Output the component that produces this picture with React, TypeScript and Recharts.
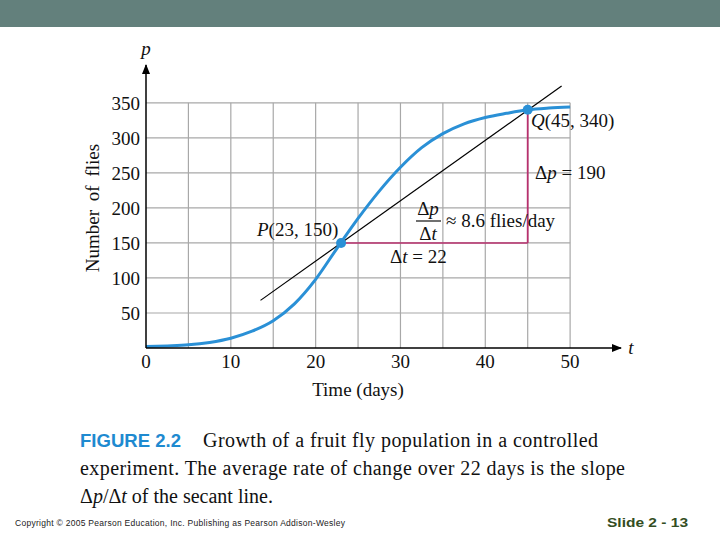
import React from "react";
import { LineChart, Line, XAxis, YAxis, ReferenceLine, ReferenceDot } from "recharts";

// fruit fly population
const days = [0, 2.5, 5, 7.5, 10, 12.5, 15, 17.5, 20, 22.5, 25, 27.5, 30, 32.5, 35, 37.5, 40, 42.5, 45, 47.5, 50];
const flies = [2, 3, 4.5, 8, 14, 24, 39, 63, 98, 142, 185, 224, 258, 286, 306, 320, 329, 335, 340, 342.5, 344];

const xTicks = [0, 10, 20, 30, 40, 50];
const yTicks = [50, 100, 150, 200, 250, 300, 350];
const gridDays = [5, 10, 15, 20, 25, 30, 35, 40, 45, 50];
const gridFlies = [50, 100, 150, 200, 250, 300, 350];

const pointP = { t: 23, p: 150 };
const pointQ = { t: 45, p: 340 };
const secantStart = { t: 13.5, p: 68 };
const secantEnd = { t: 49, p: 374 };

const curveData = days.map((t, i) => ({ t, p: flies[i] }));

const SERIF = "'Liberation Serif', 'DejaVu Serif', serif";
const SANS = "'Liberation Sans', Arial, sans-serif";
const BLUE = "#2a90d6";
const MAGENTA = "#b8306e";
const GRID = "#a8a8a8";

const ArrowUp = (props: any) => (
  <path d={`M${props.cx},${props.cy - 1} L${props.cx - 4},${props.cy + 9} L${props.cx + 4},${props.cy + 9} Z`} fill="#000" />
);
const ArrowRight = (props: any) => (
  <path d={`M${props.cx + 1},${props.cy} L${props.cx - 9},${props.cy - 4} L${props.cx - 9},${props.cy + 4} Z`} fill="#000" />
);
const Dot = (props: any) => <circle cx={props.cx} cy={props.cy} r={5} fill={BLUE} />;

export default function App() {
  return (
    <div style={{ position: "absolute", left: 0, top: 0, width: 720, height: 540, background: "#fff" }}>
      <LineChart width={720} height={540} margin={{ top: 65, right: 99, left: 86, bottom: 152 }}>
        <XAxis
          type="number"
          dataKey="t"
          domain={[0, 56]}
          ticks={xTicks}
          height={40}
          tickSize={0}
          tickMargin={7}
          axisLine={{ stroke: "#000", strokeWidth: 1.5 }}
          tick={{ fontFamily: SERIF, fontSize: 19, fill: "#111" }}
        />
        <YAxis
          type="number"
          domain={[0, 404]}
          ticks={yTicks}
          width={60}
          tickSize={0}
          tickMargin={6}
          axisLine={{ stroke: "#000", strokeWidth: 1.5 }}
          tick={{ fontFamily: SERIF, fontSize: 19, fill: "#111" }}
        />
        {gridDays.map((t) => (
          <ReferenceLine key={"v" + t} segment={[{ x: t, y: 0 }, { x: t, y: 350 }]} stroke={GRID} strokeWidth={1.2} />
        ))}
        {gridFlies.map((p) => (
          <ReferenceLine key={"h" + p} segment={[{ x: 0, y: p }, { x: 50, y: p }]} stroke={GRID} strokeWidth={1.2} />
        ))}
        <ReferenceLine
          segment={[{ x: pointP.t, y: pointP.p }, { x: pointQ.t, y: pointP.p }]}
          stroke={MAGENTA}
          strokeWidth={1.5}
        />
        <ReferenceLine
          segment={[{ x: pointQ.t, y: pointP.p }, { x: pointQ.t, y: pointQ.p }]}
          stroke={MAGENTA}
          strokeWidth={1.8}
        />
        <ReferenceLine
          segment={[{ x: secantStart.t, y: secantStart.p }, { x: secantEnd.t, y: secantEnd.p }]}
          stroke="#000"
          strokeWidth={1.2}
        />
        <Line
          data={curveData}
          dataKey="p"
          type="monotone"
          stroke={BLUE}
          strokeWidth={3}
          dot={false}
          isAnimationActive={false}
        />
        <ReferenceDot x={pointP.t} y={pointP.p} shape={Dot} />
        <ReferenceDot x={pointQ.t} y={pointQ.p} shape={Dot} />
        <ReferenceDot x={0} y={404} shape={ArrowUp} />
        <ReferenceDot x={56} y={0} shape={ArrowRight} />
      </LineChart>

      <svg width={720} height={540} style={{ position: "absolute", left: 0, top: 0, pointerEvents: "none" }}>
        <rect x={0} y={0} width={720} height={27} fill="#63807c" />

        <g fontFamily={SERIF} fontSize={19} fill="#111">
          <text x={146} y={55} textAnchor="middle" fontStyle="italic">p</text>
          <text x={631} y={354} textAnchor="middle" fontStyle="italic">t</text>
          <text x={99} y={208} textAnchor="middle" transform="rotate(-90 99 208)" wordSpacing={4}>Number of flies</text>
          <text x={358} y={396} textAnchor="middle">Time (days)</text>

          <text x={257} y={236}><tspan fontStyle="italic">P</tspan>(23, 150)</text>
          <text x={531} y={127}><tspan fontStyle="italic">Q</tspan>(45, 340)</text>
          <text x={535} y={179}>Δ<tspan fontStyle="italic">p</tspan> = 190</text>
          <text x={428} y={215} textAnchor="middle">Δ<tspan fontStyle="italic">p</tspan></text>
          <line x1={416} x2={441} y1={221} y2={221} stroke="#111" strokeWidth={1.2} />
          <text x={428} y={240} textAnchor="middle">Δ<tspan fontStyle="italic">t</tspan></text>
          <text x={446} y={227}>≈ 8.6 flies/day</text>
          <text x={390} y={263}>Δ<tspan fontStyle="italic">t</tspan> = 22</text>
        </g>

        <text x={80} y={447} fontFamily={SANS} fontWeight="bold" fontSize={19} fill="#1e8ad0" textLength={101} lengthAdjust="spacingAndGlyphs">FIGURE 2.2</text>
        <g fontFamily={SERIF} fontSize={20} fill="#111">
          <text x={203} y={447} textLength={395} lengthAdjust="spacing">Growth of a fruit fly population in a controlled</text>
          <text x={80} y={475} textLength={545} lengthAdjust="spacing">experiment. The average rate of change over 22 days is the slope</text>
          <text x={80} y={503}>Δ<tspan fontStyle="italic">p</tspan>/Δ<tspan fontStyle="italic">t</tspan> of the secant line.</text>
        </g>

        <text x={15} y={526} fontFamily={SANS} fontSize={8.5} fill="#222" textLength={330} lengthAdjust="spacing">Copyright © 2005 Pearson Education, Inc. Publishing as Pearson Addison-Wesley</text>
        <text x={607} y={527} fontFamily={SANS} fontWeight="bold" fontSize={13} fill="#334d22" textLength={81} lengthAdjust="spacingAndGlyphs">Slide 2 - 13</text>
      </svg>
    </div>
  );
}
